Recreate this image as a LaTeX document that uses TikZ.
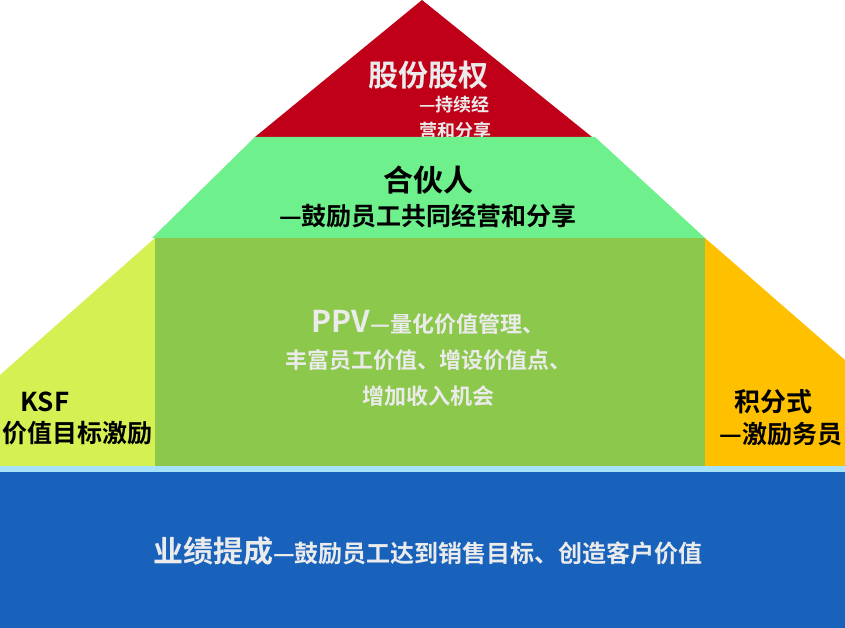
\documentclass[tikz,border=0pt]{standalone}
\usepackage{fontspec}
\newfontfamily\cjk{Noto Sans CJK SC}[BoldFont={* Bold}]
\definecolor{topred}{HTML}{C00018}
\definecolor{bandgreen}{HTML}{6EF08C}
\definecolor{midgreen}{HTML}{8CC84C}
\definecolor{leftyel}{HTML}{D4F052}
\definecolor{rightorg}{HTML}{FFC000}
\definecolor{basblue}{HTML}{1862BC}
\begin{document}
\begin{tikzpicture}[x=1pt,y=-1pt,font=\cjk\bfseries]
    \tikzstyle{wlabel}=[text=white!92!black, align=center]
    \tikzstyle{blabel}=[text=black, align=center]
    \clip (0,0) rectangle (845,628);
    \fill[white] (0,0) rectangle (845,628);

    % Draw the layers, top first
    \fill[topred] (422,0) -- (592,137) -- (255,137) -- cycle;
    \node[wlabel, font=\cjk\bfseries\fontsize{30}{34}\selectfont] (top) at (428,75) {股份股权};
    \node[wlabel, font=\cjk\bfseries\fontsize{18}{26}\selectfont, align=left] (topsub) at (455,118) {—持续经\\营和分享};
    \fill[bandgreen] (255,137) -- (595,137) -- (705,238) -- (152,238) -- cycle;
    \node[blabel, font=\cjk\bfseries\fontsize{30}{34}\selectfont] (partner) at (428,180) {合伙人};
    \node[blabel, font=\cjk\bfseries\fontsize{25}{28}\selectfont] (partnersub) at (428,216) {—鼓励员工共同经营和分享};

    % Side parts and the middle block
    \fill[leftyel] (155,238) -- (155,468) -- (0,468) -- (0,375) -- cycle;
    \fill[rightorg] (705,238) -- (845,360) -- (845,468) -- (705,468) -- cycle;
    \fill[midgreen] (155,238) rectangle (705,468);
    \node[wlabel, font=\cjk\bfseries\fontsize{22}{36}\selectfont] (ppv) at (428,358)
        {{\fontsize{30}{34}\selectfont PPV}—量化价值管理、\\丰富员工价值、增设价值点、\\增加收入机会};
    \node[blabel, font=\cjk\bfseries\fontsize{26}{30}\selectfont] (ksf) at (45,402) {KSF};
    \node[blabel, font=\cjk\bfseries\fontsize{25}{28}\selectfont, anchor=east] (ksfsub) at (156,433) {价值目标激励};
    \node[blabel, font=\cjk\bfseries\fontsize{26}{30}\selectfont] (point) at (773,402) {积分式};
    \node[blabel, font=\cjk\bfseries\fontsize{25}{28}\selectfont, anchor=west] (pointsub) at (716,434) {—激励务员};

    % Base
    \fill[cyan!35] (0,466) rectangle (845,472);
    \fill[basblue] (0,472) rectangle (845,628);
    \node[wlabel, font=\cjk\bfseries\fontsize{24}{28}\selectfont] (base) at (428,551)
        {{\fontsize{30}{34}\selectfont 业绩提成}—鼓励员工达到销售目标、创造客户价值};
\end{tikzpicture}
\end{document}
